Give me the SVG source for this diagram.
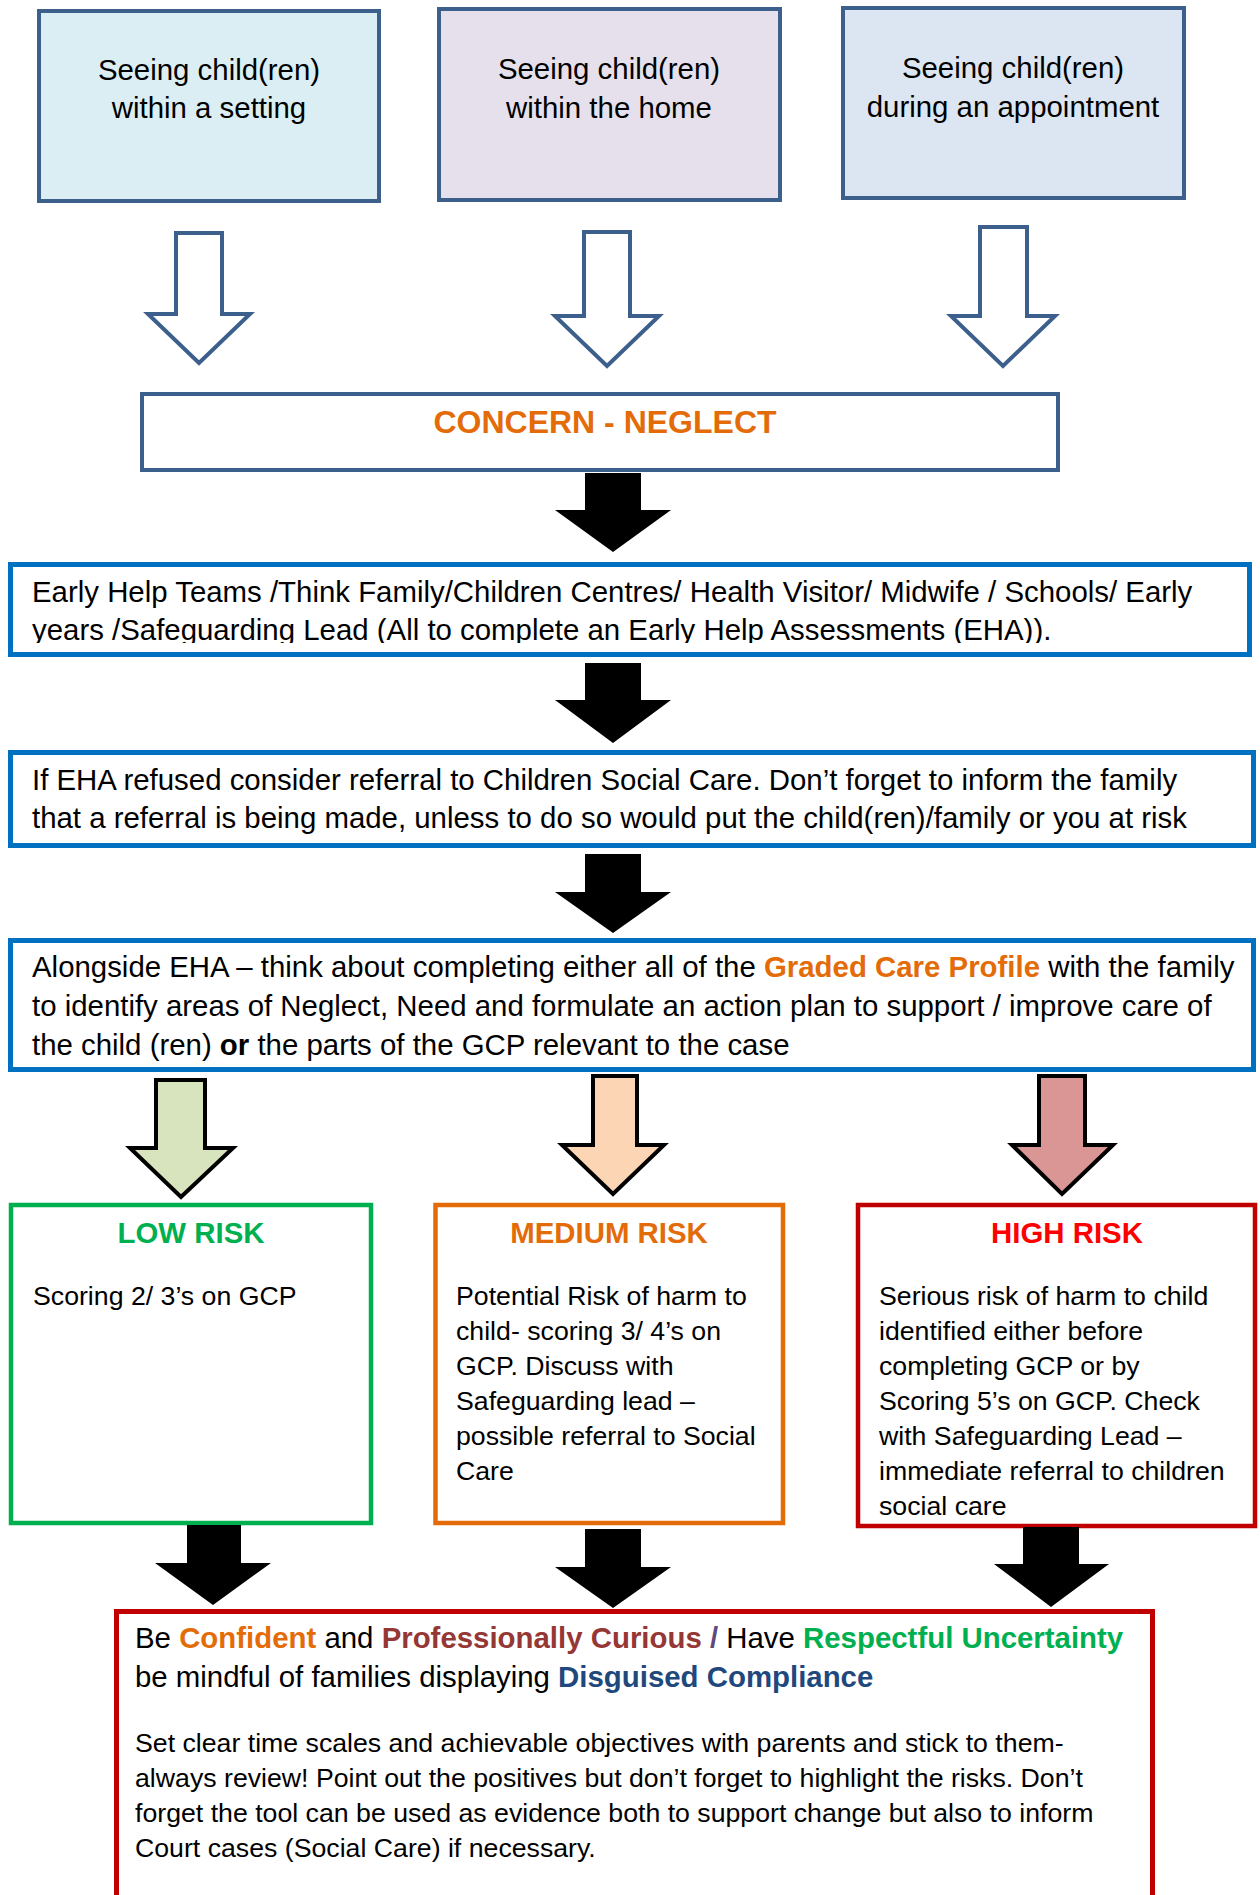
<svg xmlns="http://www.w3.org/2000/svg" width="1260" height="1895" viewBox="0 0 1260 1895">
<style>
text{font-family:"Liberation Sans",Arial,Helvetica,sans-serif;fill:#000}
.t29{font-size:29.4px}
.t26{font-size:26.7px}
.b{font-weight:bold}
.ctr{text-anchor:middle}
.top{stroke:#3D5F8C;stroke-width:4}
.blue{fill:#fff;stroke:#0070C0;stroke-width:5}
.hollow{fill:#fff;stroke:#3D5F8C;stroke-width:4;stroke-linejoin:miter}
.solid{fill:#000;stroke:none}
.risk{stroke:#000;stroke-width:4;stroke-linejoin:miter}
.org{fill:#E36C09}
</style>
<defs>
<clipPath id="ehClip"><rect x="0" y="560" width="1260" height="83"/></clipPath>
</defs>
<rect width="1260" height="1895" fill="#fff"/>

<g id="node-setting">
<rect class="top" x="39" y="11" width="340" height="190" fill="#DBEEF4"/>
<text class="t29 ctr" x="209" y="80">Seeing child(ren)</text>
<text class="t29 ctr" x="209" y="118">within a setting</text>
</g>
<g id="node-home">
<rect class="top" x="439" y="9" width="341" height="191" fill="#E5E0EC"/>
<text class="t29 ctr" x="609" y="79">Seeing child(ren)</text>
<text class="t29 ctr" x="609" y="118">within the home</text>
</g>
<g id="node-appointment">
<rect class="top" x="843" y="8" width="341" height="190" fill="#DCE6F2"/>
<text class="t29 ctr" x="1013" y="78">Seeing child(ren)</text>
<text class="t29 ctr" x="1013" y="117">during an appointment</text>
</g>

<g id="node-concern">
<rect class="top" x="142" y="394" width="916" height="76" fill="#fff"/>
<text class="b org ctr" x="605" y="433" style="font-size:32px">CONCERN - NEGLECT</text>
</g>

<g id="node-earlyhelp">
<rect class="blue" x="10.5" y="564.5" width="1239" height="90"/>
<g clip-path="url(#ehClip)">
<text class="t29" x="32" y="602">Early Help Teams /Think Family/Children Centres/ Health Visitor/ Midwife / Schools/ Early</text>
<text class="t29" x="32" y="640">years /Safeguarding Lead (All to complete an Early Help Assessments (EHA)).</text>
</g>
</g>

<g id="node-refused">
<rect class="blue" x="10.5" y="752.5" width="1243" height="93"/>
<text class="t29" x="32" y="790">If EHA refused consider referral to Children Social Care. Don’t forget to inform the family</text>
<text class="t29" x="32" y="828">that a referral is being made, unless to do so would put the child(ren)/family or you at risk</text>
</g>

<g id="node-alongside">
<rect class="blue" x="10.5" y="940.5" width="1243" height="129"/>
<text class="t29" x="32" y="977">Alongside EHA – think about completing either all of the <tspan class="b org">Graded Care Profile</tspan> with the family</text>
<text class="t29" x="32" y="1016">to identify areas of Neglect, Need and formulate an action plan to support / improve care of</text>
<text class="t29" x="32" y="1055">the child (ren) <tspan class="b">or</tspan> the parts of the GCP relevant to the case</text>
</g>

<g id="node-low">
<rect x="11" y="1205" width="360" height="318" fill="#fff" stroke="#00B050" stroke-width="4.5"/>
<text class="t29 b ctr" x="191" y="1243" style="fill:#00B050">LOW RISK</text>
<text class="t26" x="33" y="1305">Scoring 2/ 3’s on GCP</text>
</g>
<g id="node-medium">
<rect x="435.5" y="1205" width="347.5" height="318" fill="#fff" stroke="#E36C09" stroke-width="4.5"/>
<text class="t29 b ctr org" x="609" y="1243">MEDIUM RISK</text>
<text class="t26" x="456" y="1305">Potential Risk of harm to</text>
<text class="t26" x="456" y="1340">child- scoring 3/ 4’s on</text>
<text class="t26" x="456" y="1375">GCP. Discuss with</text>
<text class="t26" x="456" y="1410">Safeguarding lead –</text>
<text class="t26" x="456" y="1445">possible referral to Social</text>
<text class="t26" x="456" y="1480">Care</text>
</g>
<g id="node-high">
<rect x="858" y="1205" width="397" height="321" fill="#fff" stroke="#C00000" stroke-width="4.5"/>
<text class="t29 b ctr" x="1067" y="1243" style="fill:#FF0000">HIGH RISK</text>
<text class="t26" x="879" y="1305">Serious risk of harm to child</text>
<text class="t26" x="879" y="1340">identified either before</text>
<text class="t26" x="879" y="1375">completing GCP or by</text>
<text class="t26" x="879" y="1410">Scoring 5’s on GCP. Check</text>
<text class="t26" x="879" y="1445">with Safeguarding Lead –</text>
<text class="t26" x="879" y="1480">immediate referral to children</text>
<text class="t26" x="879" y="1515">social care</text>
</g>

<g id="node-bottom">
<rect x="116.5" y="1611.5" width="1036" height="400" fill="#fff" stroke="#C00000" stroke-width="5"/>
<text class="t29" x="135" y="1648">Be <tspan class="b org">Confident</tspan> and <tspan class="b" style="fill:#953735">Professionally Curious</tspan> <tspan class="b" style="fill:#5F497A">/</tspan> Have <tspan class="b" style="fill:#00B050">Respectful Uncertainty</tspan></text>
<text class="t29" x="135" y="1687">be mindful of families displaying <tspan class="b" style="fill:#1F497D">Disguised Compliance</tspan></text>
<text class="t26" x="135" y="1752">Set clear time scales and achievable objectives with parents and stick to them-</text>
<text class="t26" x="135" y="1787">always review! Point out the positives but don’t forget to highlight the risks. Don’t</text>
<text class="t26" x="135" y="1822">forget the tool can be used as evidence both to support change but also to inform</text>
<text class="t26" x="135" y="1857">Court cases (Social Care) if necessary.</text>
</g>

<g id="connectors">
<polygon class="hollow" points="176,233 222,233 222,314 250,314 199,363 148,314 176,314"/>
<polygon class="hollow" points="584,232 630,232 630,316 659,316 607,366 555,316 584,316"/>
<polygon class="hollow" points="980,227 1027,227 1027,316 1055,316 1003,366 951,316 980,316"/>
<polygon class="solid" points="585,473 641,473 641,510 671,510 613,552 555,510 585,510"/>
<polygon class="solid" points="585,663 641,663 641,700 671,700 613,743 555,700 585,700"/>
<polygon class="solid" points="585,854 641,854 641,892 671,892 613,933 555,892 585,892"/>
<polygon class="risk" fill="#D7E4BD" points="156,1080 205,1080 205,1148 233,1148 181,1197 130,1148 156,1148"/>
<polygon class="risk" fill="#FCD5B5" points="593,1076 637,1076 637,1145 664,1145 613,1194 562,1145 593,1145"/>
<polygon class="risk" fill="#D99694" points="1039,1076 1085,1076 1085,1145 1113,1145 1062,1194 1012,1145 1039,1145"/>
<polygon class="solid" points="187,1525 241,1525 241,1563 271,1563 213,1605 155,1563 187,1563"/>
<polygon class="solid" points="585,1529 641,1529 641,1567 671,1567 613,1608 555,1567 585,1567"/>
<polygon class="solid" points="1023,1527 1079,1527 1079,1564 1109,1564 1051,1607 994,1564 1023,1564"/>
</g>
</svg>
